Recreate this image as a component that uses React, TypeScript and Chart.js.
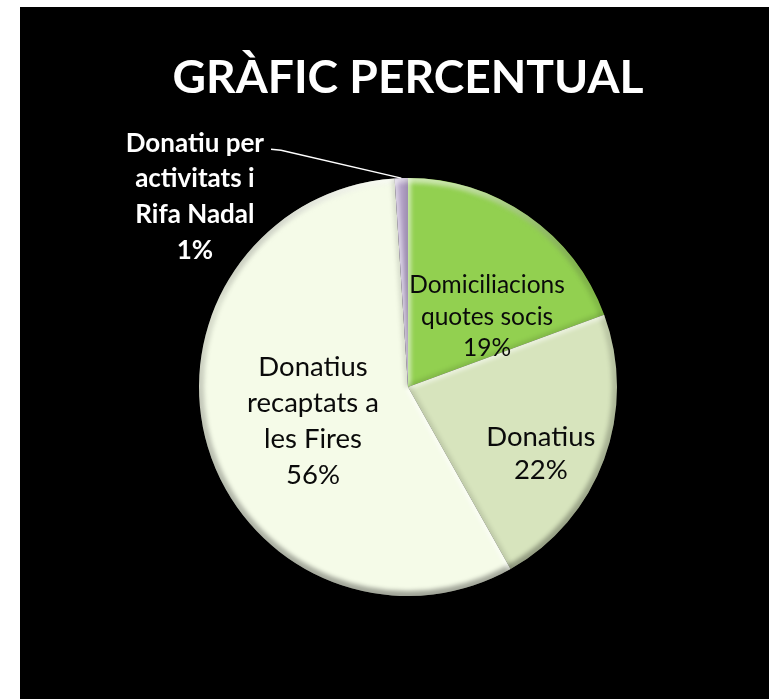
import React, { useEffect, useRef } from "react";
import { Chart, registerables } from "chart.js";

Chart.register(...registerables);

// ---- data ----
const titleText = "GRÀFIC PERCENTUAL";
const categories = [
  "Domiciliacions quotes socis",
  "Donatius",
  "Donatius recaptats a les Fires",
  "Donatiu per activitats i Rifa Nadal",
];
const labelLines = [
  ["Domiciliacions", "quotes socis"],
  ["Donatius"],
  ["Donatius", "recaptats a", "les Fires"],
  ["Donatiu per", "activitats i", "Rifa Nadal"],
];
const percentValues = [19, 22, 56, 1];
const sliceColors = ["#92D050", "#D7E4BD", "#F5FBE8", "#B3A2C7"];

// ---- label styling / placement (polar, relative to slice mid angle) ----
const labelStyle = [
  { dAngle: 13.6, rFrac: 0.505, size: 24.5, lineH: 31.5, color: "#0a0a0a", bold: false, leader: false },
  { dAngle: 6.4, rFrac: 0.711, size: 27.5, lineH: 33, color: "#0a0a0a", bold: false, leader: false },
  { dAngle: -3.2, rFrac: 0.483, size: 27.5, lineH: 36, color: "#0a0a0a", bold: false, leader: false },
  { dAngle: -46.4, rFrac: 1.367, size: 26, lineH: 35.7, color: "#ffffff", bold: true, leader: true },
];

const FONT = "Lato, 'Open Sans', sans-serif";

const bevelPlugin = {
  id: "bevel",
  afterDatasetDraw(chart: any) {
    const meta = chart.getDatasetMeta(0);
    const ctx = chart.ctx as CanvasRenderingContext2D;
    meta.data.forEach((arc: any) => {
      const { x, y, startAngle, endAngle, outerRadius } = arc.getProps(
        ["x", "y", "startAngle", "endAngle", "outerRadius"],
        true
      );
      ctx.save();
      ctx.beginPath();
      ctx.moveTo(x, y);
      ctx.arc(x, y, outerRadius, startAngle, endAngle);
      ctx.closePath();
      ctx.clip();
      ctx.filter = "blur(2px)";
      const g = ctx.createLinearGradient(x, y - outerRadius, x, y + outerRadius);
      g.addColorStop(0, "rgba(255,255,255,0.55)");
      g.addColorStop(0.3, "rgba(0,0,0,0.1)");
      g.addColorStop(0.6, "rgba(0,0,0,0.22)");
      g.addColorStop(1, "rgba(0,0,0,0.34)");
      ctx.lineWidth = 10;
      ctx.strokeStyle = g;
      ctx.beginPath();
      ctx.arc(x, y, outerRadius, 0, Math.PI * 2);
      ctx.stroke();
      // radial edges
      ctx.lineWidth = 6;
      ctx.strokeStyle = "rgba(255,255,255,0.55)";
      ctx.beginPath();
      ctx.moveTo(x, y);
      ctx.lineTo(x + outerRadius * Math.cos(startAngle), y + outerRadius * Math.sin(startAngle));
      ctx.stroke();
      ctx.strokeStyle = "rgba(0,0,0,0.12)";
      ctx.beginPath();
      ctx.moveTo(x, y);
      ctx.lineTo(x + outerRadius * Math.cos(endAngle), y + outerRadius * Math.sin(endAngle));
      ctx.stroke();
      ctx.restore();
    });
  },
};

const textPlugin = {
  id: "texts",
  afterDraw(chart: any) {
    const ctx = chart.ctx as CanvasRenderingContext2D;
    const meta = chart.getDatasetMeta(0);
    if (!meta.data.length) return;
    const first = meta.data[0];
    const cx = first.x;
    const cy = first.y;
    const R = first.outerRadius;

    // title
    ctx.save();
    ctx.font = `bold 46px ${FONT}`;
    ctx.fillStyle = "#ffffff";
    ctx.textAlign = "center";
    ctx.textBaseline = "alphabetic";
    const tw = ctx.measureText(titleText).width;
    const sx = 471 / tw;
    ctx.translate(cx, cy - 294);
    ctx.scale(sx, 1);
    ctx.fillText(titleText, 0, 0);
    ctx.restore();

    // data labels
    meta.data.forEach((arc: any, i: number) => {
      const st = labelStyle[i];
      const mid = (arc.startAngle + arc.endAngle) / 2 + (st.dAngle * Math.PI) / 180;
      const lx = cx + Math.cos(mid) * R * st.rFrac;
      const ly = cy + Math.sin(mid) * R * st.rFrac;
      const lines = [...labelLines[i], `${percentValues[i]}%`];
      ctx.save();
      ctx.font = `${st.bold ? "bold " : ""}${st.size}px ${FONT}`;
      ctx.fillStyle = st.color;
      ctx.textAlign = "center";
      ctx.textBaseline = "middle";
      const top = ly - ((lines.length - 1) * st.lineH) / 2;
      lines.forEach((t, k) => ctx.fillText(t, lx, top + k * st.lineH));
      if (st.leader) {
        const w0 = ctx.measureText(lines[0]).width;
        const sxl = lx + w0 / 2 + 7;
        const syl = top + 6;
        const am = (arc.startAngle + arc.endAngle) / 2;
        const ex = cx + Math.cos(am) * R;
        const ey = cy + Math.sin(am) * R;
        ctx.strokeStyle = "#ffffff";
        ctx.lineWidth = 1.5;
        ctx.beginPath();
        ctx.moveTo(sxl, syl);
        ctx.lineTo(sxl + 10, syl + 1);
        ctx.lineTo(ex, ey);
        ctx.stroke();
      }
      ctx.restore();
    });
  },
};

export default function App() {
  const canvasRef = useRef<HTMLCanvasElement | null>(null);

  useEffect(() => {
    if (!canvasRef.current) return;
    const chart = new Chart(canvasRef.current, {
      type: "pie",
      data: {
        labels: categories,
        datasets: [
          {
            data: percentValues,
            backgroundColor: sliceColors,
            borderWidth: 0,
            radius: 209,
          } as any,
        ],
      },
      options: {
        responsive: false,
        animation: false,
        layout: { padding: { left: 27, right: 0, top: 68, bottom: 0 } },
        plugins: {
          legend: { display: false },
          title: { display: false },
          tooltip: { enabled: false },
        },
      },
      plugins: [bevelPlugin, textPlugin],
    });
    return () => chart.destroy();
  }, []);

  return (
    <div
      style={{
        position: "fixed",
        left: 0,
        top: 0,
        width: 769,
        height: 699,
        background: "#ffffff",
      }}
    >
      <div
        style={{
          position: "absolute",
          left: 20,
          top: 7,
          width: 749,
          height: 692,
          background: "#000000",
        }}
      >
        <canvas ref={canvasRef} width={749} height={692} style={{ display: "block" }} />
      </div>
    </div>
  );
}
